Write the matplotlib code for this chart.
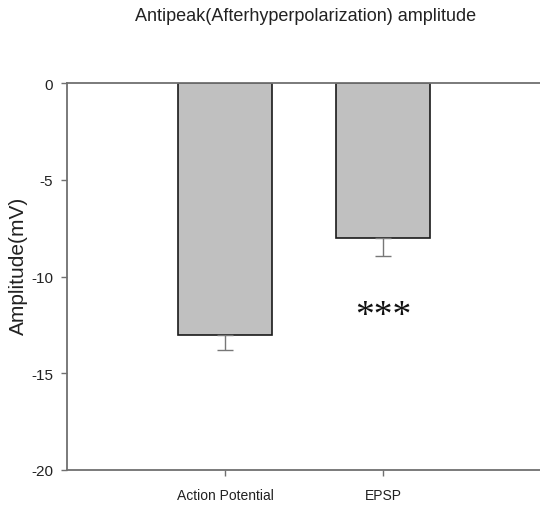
import matplotlib
matplotlib.use("Agg")
import matplotlib.pyplot as plt

categories = ["Action Potential", "EPSP"]
amplitudes = [-13.0, -8.0]
errors = [0.8, 0.95]
y_ticks = [0, -5, -10, -15, -20]
significance = "***"

fig = plt.figure(figsize=(5.4, 5.1), dpi=100)
ax = fig.add_axes([67 / 540, 1 - 471 / 510, 1 - 67 / 540 + 0.002, (471 - 84) / 510])

x = list(range(len(categories)))
ax.bar(x, amplitudes, width=0.6, color="#c0c0c0", edgecolor="#1a1a1a", linewidth=1.2, zorder=2)
# one-sided error bars, pointing away from zero
ax.errorbar(x, amplitudes, yerr=[errors, [0] * len(errors)], fmt="none",
            ecolor="#777777", elinewidth=1.0, capsize=5.5, capthick=1.0, zorder=3)

ax.set_xlim(-1, 2)
ax.set_ylim(-20, 0)
ax.set_yticks(y_ticks)
ax.set_yticklabels([str(v) for v in y_ticks], fontfamily="Liberation Sans", fontsize=11)
ax.set_xticks(x)
ax.set_xticklabels(categories, fontfamily="Liberation Sans", fontsize=10)

ax.spines["right"].set_visible(False)
for side in ("left", "bottom", "top"):
    ax.spines[side].set_color("#707070")
    ax.spines[side].set_linewidth(1.3)
ax.tick_params(axis="both", direction="out", length=4, width=1, color="#707070", colors="#222222")
ax.tick_params(axis="y", pad=6)
ax.tick_params(axis="x", pad=9)

ax.set_ylabel("Amplitude(mV)", fontfamily="Liberation Sans", fontsize=15, color="#222222")
ax.yaxis.set_label_coords(-0.083, 0.53)
ax.text(1.0, -12.05, significance, ha="center", va="center", fontsize=27,
        fontfamily="Liberation Serif", color="#111111")

fig.text(0.565, 0.968, "Antipeak(Afterhyperpolarization) amplitude", ha="center", va="center",
         fontfamily="Liberation Sans", fontsize=13, color="#222222")

fig.savefig("out.png", dpi=100)
